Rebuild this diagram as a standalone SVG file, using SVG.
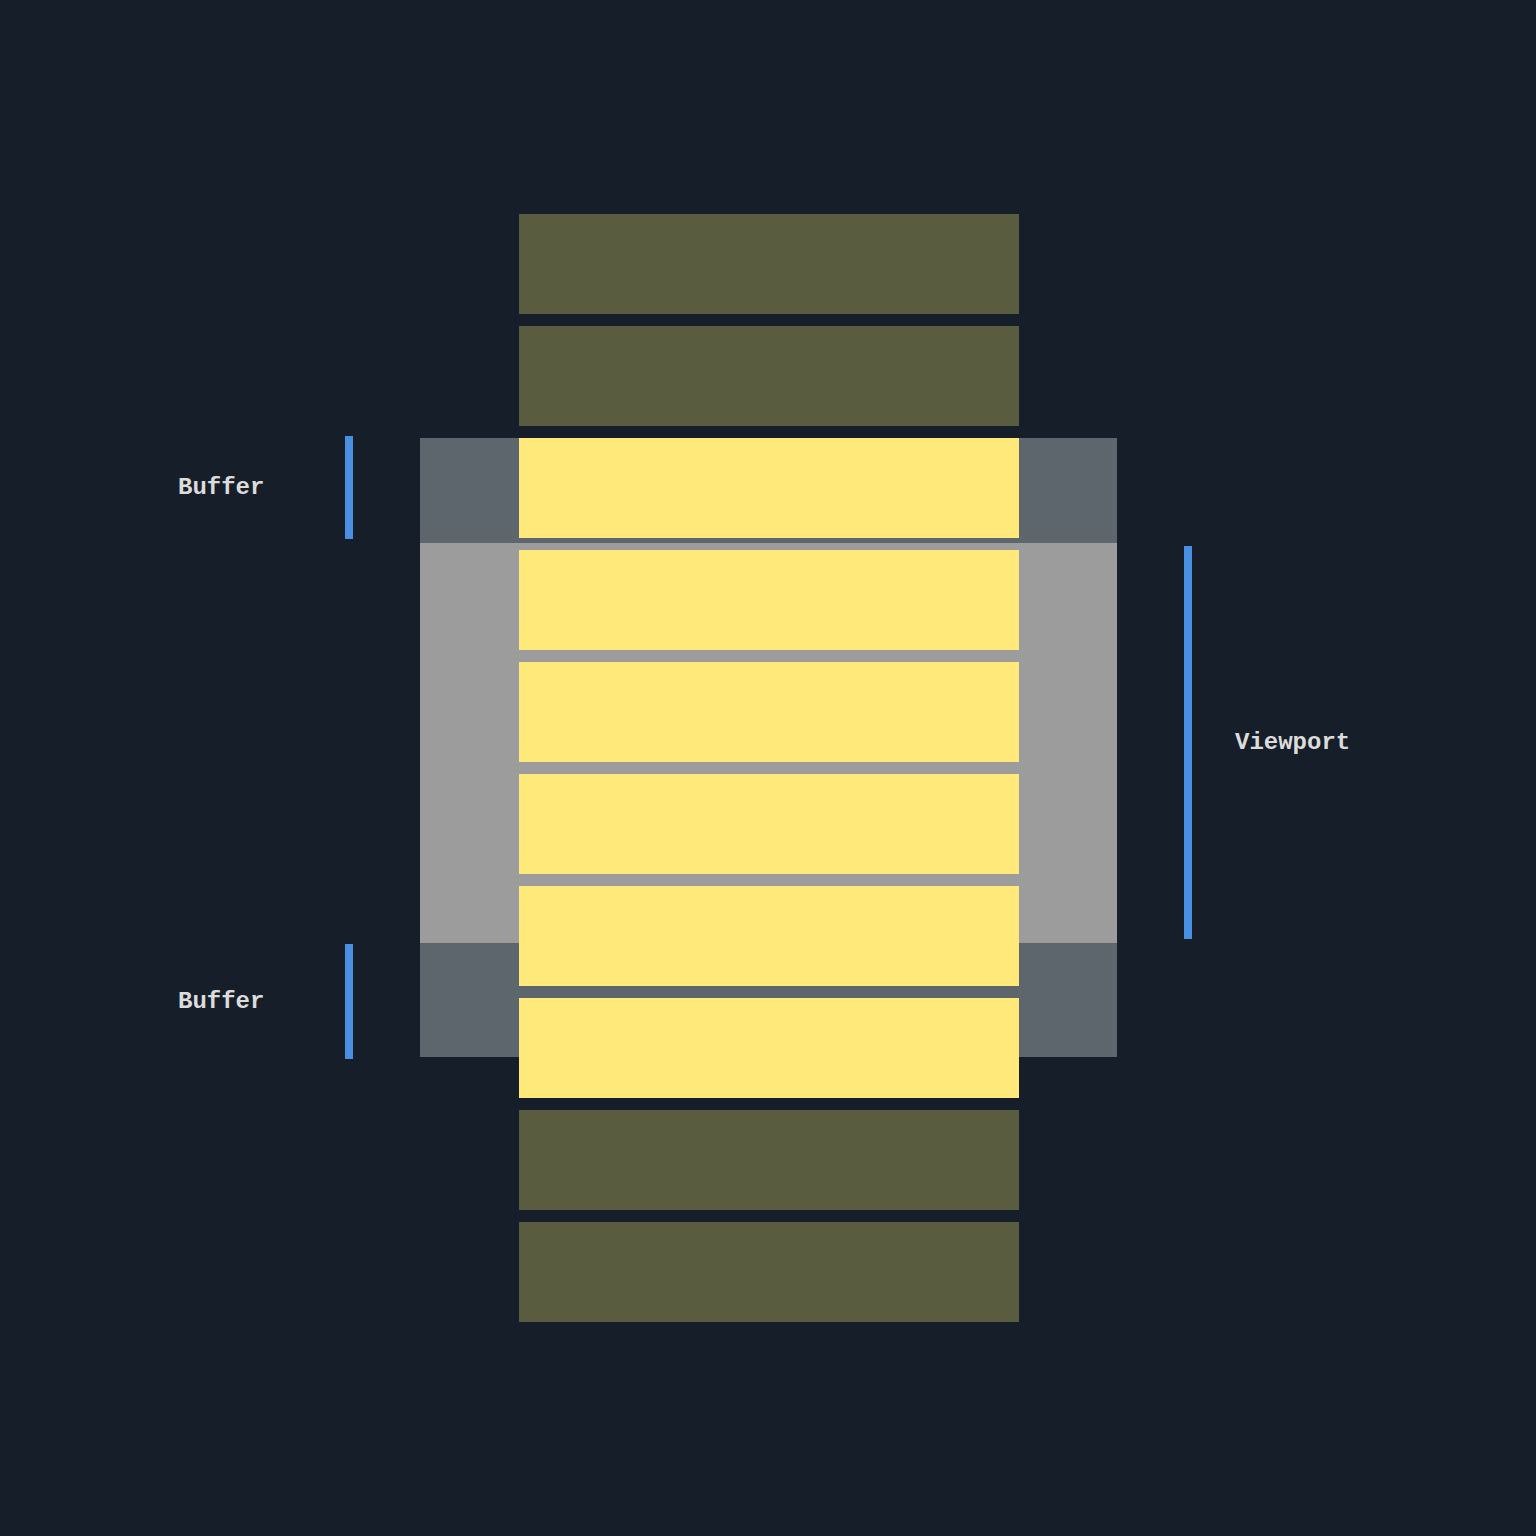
<svg xmlns="http://www.w3.org/2000/svg" width="1536" height="1536" viewBox="0 0 1536 1536">
<style>
.bg{fill:#161f29}
.buf{fill:#5d656d}
.vp{fill:#9c9c9c}
.off{fill:#5a5c40}
.on{fill:#ffe97a}
.mark{fill:#4a90e2}
.lbl{font-family:"Liberation Mono","DejaVu Sans Mono",monospace;font-weight:bold;font-size:24px;fill:#dcdcdc}
</style>
<rect class="bg" x="0" y="0" width="1536" height="1536"/>
<g id="regions">
<rect id="buffer-top" class="buf" x="420" y="438" width="697" height="105"/>
<rect id="viewport" class="vp" x="420" y="543" width="697" height="400"/>
<rect id="buffer-bottom" class="buf" x="420" y="943" width="697" height="114"/>
</g>
<g id="items">
<rect id="item1" class="off" x="519" y="214" width="500" height="100"/>
<rect id="item2" class="off" x="519" y="326" width="500" height="100"/>
<rect id="item3" class="on" x="519" y="438" width="500" height="100"/>
<rect id="item4" class="on" x="519" y="550" width="500" height="100"/>
<rect id="item5" class="on" x="519" y="662" width="500" height="100"/>
<rect id="item6" class="on" x="519" y="774" width="500" height="100"/>
<rect id="item7" class="on" x="519" y="886" width="500" height="100"/>
<rect id="item8" class="on" x="519" y="998" width="500" height="100"/>
<rect id="item9" class="off" x="519" y="1110" width="500" height="100"/>
<rect id="item10" class="off" x="519" y="1222" width="500" height="100"/>
</g>
<g id="markers">
<rect class="mark" x="345" y="436" width="8" height="103"/>
<rect class="mark" x="345" y="944" width="8" height="115"/>
<rect class="mark" x="1184" y="546" width="8" height="393"/>
</g>
<g id="labels">
<text class="lbl" x="178" y="494">Buffer</text>
<text class="lbl" x="178" y="1008">Buffer</text>
<text class="lbl" x="1235" y="749">Viewport</text>
</g>
</svg>
